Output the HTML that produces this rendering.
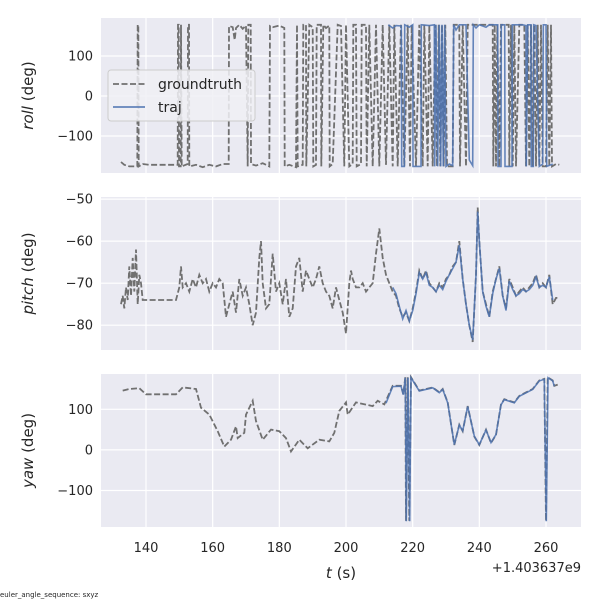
<!DOCTYPE html>
<html><head><meta charset="utf-8"><style>
body{margin:0;background:#fff}
svg{font-family:"DejaVu Sans","Liberation Sans",sans-serif}
</style></head><body>
<svg id="c" width="600" height="600" viewBox="0 0 600 600"></svg>
<script>
const xTicks=[140,160,180,200,220,240,260];
const rollTicks=[100,0,-100];
const pitchTicks=[-50,-60,-70,-80];
const yawTicks=[100,0,-100];
const gtRoll=[[132.5,-165],[133.5,-172],[135,-176],[137.4,-176],[137.5,178],[137.7,178],[137.8,-176],[139,-170],[141,-172],[149.5,-172],[149.6,178],[149.8,178],[149.9,-176],[150.4,-176],[150.5,178],[150.7,-176],[152.5,-170],[152.6,178],[152.9,178],[153,-176],[155,-172],[157,-178],[159,-172],[161,-176],[163,-170],[164.8,-170],[164.9,175],[166,172],[166.6,140],[167,170],[168,178],[169,168],[170,176],[170.5,-176],[170.7,178],[171.4,178],[171.5,-170],[173,-174],[175,-168],[177,-176],[177.2,175],[178,172],[180,176],[181.5,170],[181.6,-176],[183,-172],[185,-178],[185.3,178],[185.5,-176],[187,-172],[187.2,178],[188,178],[188.1,-176],[189,178],[190,172],[190.2,-176],[191,-172],[191.2,178],[192.5,178],[192.6,-176],[193.2,178],[194,170],[195,176],[195.1,-176],[196,-170],[197.5,178],[198.5,175],[199.5,-176],[200,178],[201,-176],[202,-170],[202.2,178],[203,178],[203.2,-176],[204.5,-170],[204.7,178],[206,178],[206.2,-176],[207,178],[208,-176],[209,178],[210,-176],[211,178],[212,-172],[213,178],[214,-176],[214.5,178],[215.5,-176],[216.5,178],[217.5,-176],[218.5,178],[219.2,-176],[219.7,178],[221,-176],[222,178],[223,-176],[223.5,178],[224.5,-176],[225,178],[226,-176],[226.8,178],[227.3,-176],[227.8,178],[228.3,-176],[228.8,178],[229.3,-176],[229.8,178],[230.3,-176],[232,-176],[232.3,178],[234,178],[234.2,-176],[235,178],[236,-176],[236.5,178],[240,178],[244,178],[244.2,-176],[244.6,178],[245,-176],[245.4,178],[246,-176],[246.5,178],[248.8,178],[249,-176],[249.5,178],[250,-176],[250.5,178],[251,-176],[252,178],[253.5,178],[254,-176],[254.5,178],[255,-176],[255.5,178],[256,-176],[256.5,178],[257,-176],[257.5,178],[258,-176],[258.5,178],[259,-176],[260,-176],[260.5,178],[261,-176],[261.5,178],[261.8,-176],[263,-170],[264,-172]];
const trajRoll=[[212.7,178],[214,170],[215,176],[216.6,175],[216.7,-176],[217.5,-176],[217.6,178],[219,172],[220,178],[220.1,-176],[222.5,-176],[222.6,178],[225,176],[226.5,178],[226.6,-176],[227,178],[227.5,-176],[228,178],[228.4,-176],[228.8,178],[229.2,-176],[229.6,178],[230,-176],[231,-170],[232,-174],[232.3,178],[233,165],[234,178],[236,178],[237,-160],[238,-174],[238.2,178],[239,170],[240,178],[242,172],[243,178],[245.5,178],[245.6,-176],[246.5,-176],[246.6,178],[247.6,178],[247.7,-176],[249.8,-176],[249.9,178],[253,178],[254,176],[254.1,-176],[254.5,178],[255.5,178],[255.6,-176],[256.2,-176],[256.3,178],[257,176],[258,-176],[259,-170],[259.2,178],[260,178],[260.2,-176],[261.5,-172],[262,-170]];
const gtPitch=[[132.5,-75],[133,-73],[133.5,-76],[134,-71],[134.5,-74],[135,-66],[135.5,-73],[136,-64],[136.5,-72],[137,-62],[137.5,-75],[138,-68],[138.5,-70],[139,-74],[141,-74],[145,-74],[149,-74],[150,-71],[150.5,-66],[151,-71],[152,-70],[153,-72],[154,-69],[155,-71],[156,-68],[157,-70],[158,-69],[159,-72],[160,-70],[161,-71],[162,-69],[163,-70],[164,-78],[165,-75],[166,-72],[167,-77],[168,-69],[169,-73],[170,-71],[171,-75],[172,-80],[173,-77],[174,-64],[174.5,-60],[175,-70],[176,-76],[177,-75],[178,-63],[179,-72],[180,-70],[181,-75],[182,-69],[183,-78],[184,-76],[185,-66],[186,-64],[187,-72],[188,-67],[189,-69],[190,-71],[191,-69],[192,-66],[193,-70],[194,-72],[195,-73],[196,-76],[197,-71],[198,-74],[199,-77],[200,-82],[201,-70],[201.5,-67],[202,-69],[203,-71],[204,-71],[205,-70],[206,-72],[207,-71],[208,-70],[209,-63],[210,-57],[211,-64],[212,-68],[213,-70],[214,-72],[215,-73],[216,-76],[217,-78],[218,-77],[219,-79],[220,-76],[221,-72],[222,-67],[223,-69],[224,-67],[225,-70],[226,-71],[227,-72],[228,-70],[229,-71],[230,-69],[231,-68],[232,-66],[233,-65],[234,-60],[235,-69],[236,-75],[237,-80],[238,-84],[239,-68],[239.5,-52],[240,-60],[241,-72],[242,-75],[243,-78],[244,-72],[245,-69],[246,-66],[247,-73],[248,-76],[249,-69],[250,-71],[251,-73],[252,-72],[253,-71],[254,-72],[255,-71],[256,-70],[257,-68],[258,-71],[259,-70],[260,-71],[261,-68],[262,-75],[263,-73.5],[264,-73.5]];
const trajPitch=[[214,-71],[215,-72.5],[216,-75.5],[217,-78.5],[218,-76.5],[219,-79],[220,-76.5],[221,-72.5],[222,-67.5],[223,-69],[224,-67.5],[225,-70.5],[226,-71],[227,-72],[228,-70.5],[229,-71.5],[230,-69.5],[231,-68],[232,-66.5],[233,-65],[234,-61],[235,-69],[236,-75],[237,-80],[238,-83.5],[239,-68],[239.5,-53],[240,-60],[241,-72],[242,-75.5],[243,-78],[244,-72.5],[245,-69],[246,-66.5],[247,-73],[248,-76.5],[249,-69.5],[250,-71.5],[251,-73],[252,-72.5],[253,-71.5],[254,-72],[255,-71.5],[256,-70.5],[257,-68.5],[258,-71],[259,-70.5],[260,-71],[261,-68.5],[262,-74]];
const gtYaw=[[133,146],[135,150],[138,152],[140,137],[149,137],[151,154],[155,150],[156.5,104],[159,87],[161.5,46],[163.5,8],[165.5,25],[167,58],[167.5,29],[169.5,42],[170,87],[172,121],[173,71],[175,25],[177.5,50],[180,46],[182,29],[183.5,-4],[186,25],[188.5,4],[192,25],[195,21],[196.5,42],[198,96],[200,117],[200.5,87],[203,117],[208,108],[209.5,121],[211.5,112],[214,158],[216.5,158],[217.2,137],[217.8,179],[218,-175],[218.5,179],[219,-175],[219.5,179],[222,146],[226,154],[228,142],[229,150],[230.5,117],[232.5,12],[234,62],[235,46],[236.5,108],[238.5,33],[240,12],[242,50],[243.5,17],[245,37],[246.5,112],[247.5,125],[250.5,117],[252,133],[256,150],[258,171],[259.5,175],[260,-175],[260.5,179],[262,171],[262.5,158],[263.5,161]];
const trajYaw=[[212,115],[214,156],[216.5,157],[217.2,136],[217.8,178],[218.1,-176],[218.6,178],[219.1,-176],[219.5,178],[222,145],[226,153],[228,141],[229,149],[230.5,116],[232.5,13],[234,61],[235,47],[236.5,107],[238.5,34],[240,13],[242,49],[243.5,18],[245,38],[246.5,111],[247.5,124],[250.5,116],[252,132],[256,149],[258,170],[259.5,174],[260.1,-176],[260.6,178],[262,170],[262.5,157]];

const NS="http://www.w3.org/2000/svg";
const svg=document.getElementById('c');
const X0=101,X1=581,TMIN=126.5,TMAX=270.5;
function xs(t){return X0+(t-TMIN)/(TMAX-TMIN)*(X1-X0);}
function mk(tag,attrs,parent){const e=document.createElementNS(NS,tag);for(const k in attrs)e.setAttribute(k,attrs[k]);(parent||svg).appendChild(e);return e;}
const panels=[
 {name:'roll',y0:18,y1:173,min:-192.5,max:195,ticks:rollTicks,gt:gtRoll,tr:trajRoll},
 {name:'pitch',y0:197,y1:350,min:-85.9,max:-49.5,ticks:pitchTicks,gt:gtPitch,tr:trajPitch},
 {name:'yaw',y0:374,y1:527,min:-190,max:187,ticks:yawTicks,gt:gtYaw,tr:trajYaw}
];
panels.forEach((p,i)=>{
 const ys=v=>p.y1-(v-p.min)/(p.max-p.min)*(p.y1-p.y0);
 const g=mk('g',{});
 
 
 const bg=mk('rect',{x:X0,y:p.y0,width:X1-X0,height:p.y1-p.y0,fill:'#eaeaf2'},g);
 
 
 const cp=mk('clipPath',{id:'cp'+i},g);
 mk('rect',{x:X0,y:p.y0,width:X1-X0,height:p.y1-p.y0},cp);
 xTicks.forEach(t=>{const l=mk('line',{x1:xs(t),x2:xs(t),y1:p.y0,y2:p.y1,stroke:'#fff','stroke-width':1.2},g);
  });
 p.ticks.forEach(v=>{const l=mk('line',{x1:X0,x2:X1,y1:ys(v),y2:ys(v),stroke:'#fff','stroke-width':1.2},g);
  
  const tx=mk('text',{x:93,y:ys(v)+4.5,'text-anchor':'end','font-size':13,fill:'#262626'},g);
  tx.textContent=v<0?'\u2212'+(-v):String(v);
  });
 const pts=arr=>arr.map(d=>xs(d[0]).toFixed(1)+','+ys(d[1]).toFixed(1)).join(' ');
 const gl=mk('polyline',{points:pts(p.gt),fill:'none',stroke:'#707070','stroke-width':1.8,'stroke-dasharray':'6,2.5','clip-path':'url(#cp'+i+')'},g);
 
 const tl=mk('polyline',{points:pts(p.tr),fill:'none',stroke:'#4c72b0','stroke-opacity':0.85,'stroke-width':1.6,'clip-path':'url(#cp'+i+')'},g);
 
 const yl=mk('text',{transform:`translate(33,${(p.y0+p.y1)/2}) rotate(-90)`,'text-anchor':'middle','font-size':15,fill:'#262626'},g);
 yl.innerHTML=`<tspan font-style="italic">${p.name}</tspan> (deg)`;
 
});
xTicks.forEach(t=>{const tx=mk('text',{x:xs(t),y:552,'text-anchor':'middle','font-size':13,fill:'#262626'});
 tx.textContent=t;});
const xt=mk('text',{x:341,y:578,'text-anchor':'middle','font-size':15,fill:'#262626'});
xt.innerHTML='<tspan font-style="italic">t</tspan> (s)';

const off=mk('text',{x:581,y:572,'text-anchor':'end','font-size':13,fill:'#262626'});
off.textContent='+1.403637e9';
const foot=mk('text',{x:0,y:597,'font-size':7,fill:'#262626'});
foot.textContent='euler_angle_sequence: sxyz';
const lg=mk('g',{});

mk('rect',{x:108,y:70,width:147,height:51,rx:3,fill:'#f0f0f5','fill-opacity':0.85,stroke:'#cccccc','stroke-width':1},lg);
const l1=mk('line',{x1:113,x2:145,y1:84,y2:84,stroke:'#707070','stroke-width':1.8,'stroke-dasharray':'6,2.5'},lg);

const t1=mk('text',{x:158,y:89,'font-size':14,fill:'#262626'},lg);t1.textContent='groundtruth';

const l2=mk('line',{x1:113,x2:145,y1:107,y2:107,stroke:'#4c72b0','stroke-width':1.6},lg);

const t2=mk('text',{x:158,y:112,'font-size':14,fill:'#262626'},lg);t2.textContent='traj';

</script>
</body></html>
